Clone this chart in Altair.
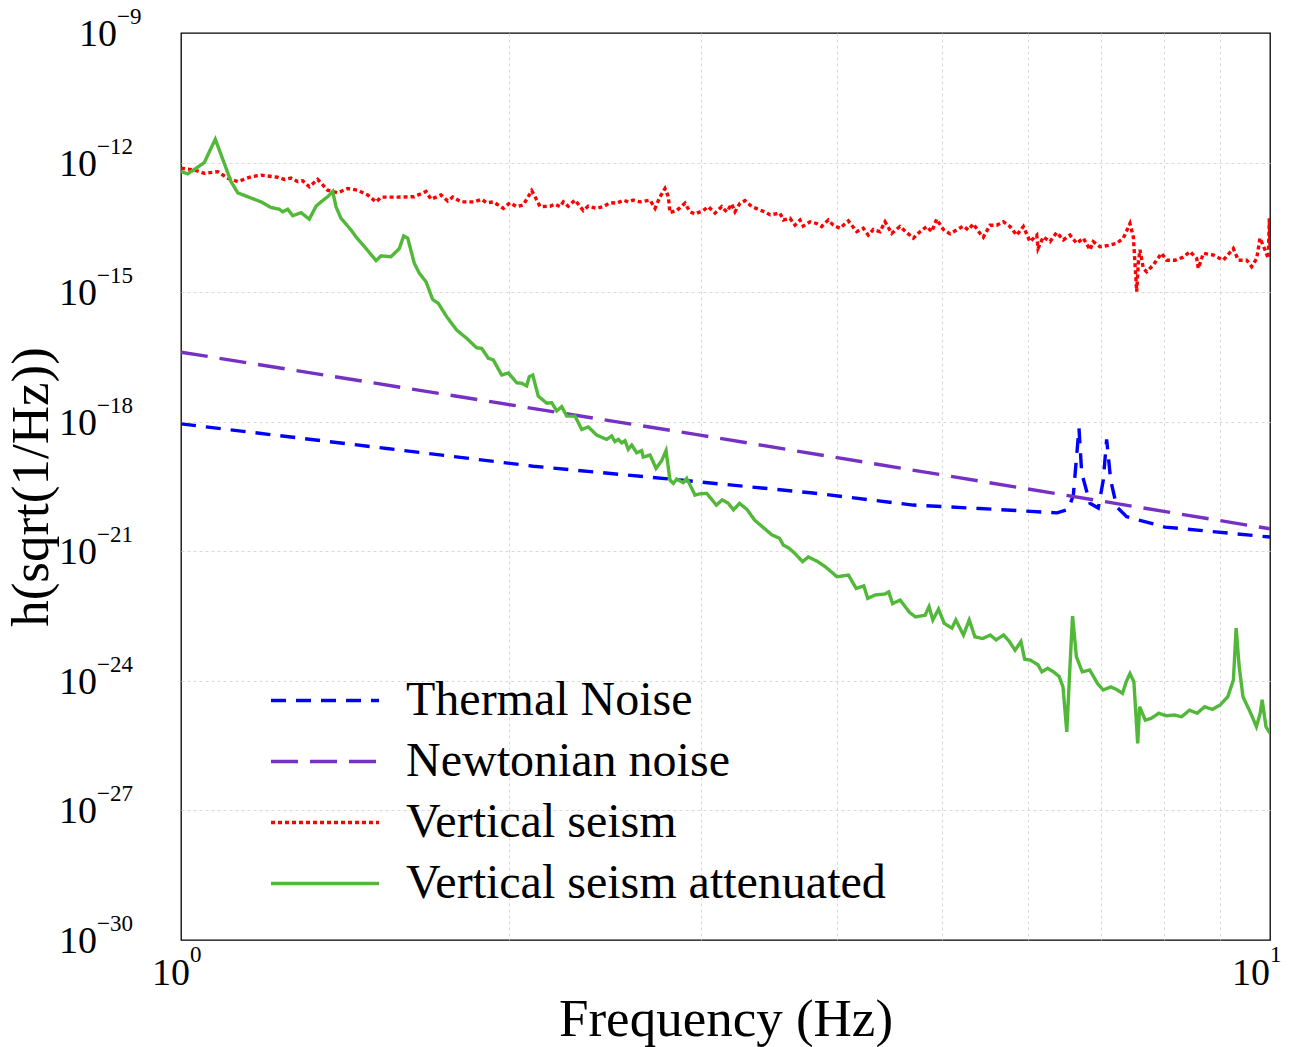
import altair as alt
import pandas as pd

FONT = "Liberation Serif"

# ---------------- data (log10 of frequency in Hz, log10 of amplitude) ----------------
series_names = ["Thermal Noise", "Newtonian noise", "Vertical seism", "Vertical seism attenuated"]
series_colors = ["#0000ff", "#7530c4", "#ff0000", "#52b83a"]
series_dashes = [[15, 10], [27, 12], [4, 3], [1, 0]]

thermal_logf = [0.0, 0.1889, 0.3235, 0.4582, 0.5803, 0.6722, 0.7337, 0.8044, 0.8148, 0.8194,
                0.8246, 0.8271, 0.8347, 0.8423, 0.8469, 0.8500, 0.8537, 0.8592, 0.8684, 0.9036,
                1.0]
thermal_logh = [-18.05, -18.62, -19.03, -19.35, -19.65, -19.93, -20.01, -20.11, -20.03, -19.70,
                -18.15, -19.19, -19.89, -20.00, -19.35, -18.41, -19.35, -19.97, -20.20, -20.44,
                -20.67]

newton_logf = [0.0, 0.4766, 1.0]
newton_logh = [-16.39, -18.31, -20.48]

seism_logf = [0.000, 0.0122, 0.0214, 0.0337, 0.0429, 0.0521, 0.0643, 0.0735, 0.0888, 0.0949,
              0.1010, 0.1072, 0.1118, 0.1178, 0.1255, 0.1347, 0.1439, 0.1531, 0.1623, 0.1714,
              0.1791, 0.1837, 0.1990, 0.2142, 0.2250, 0.2296, 0.2388, 0.2449, 0.2495, 0.2571,
              0.2693, 0.2761, 0.2807, 0.2868, 0.2960, 0.3021, 0.3083, 0.3143, 0.3189, 0.3220,
              0.3251, 0.3297, 0.3388, 0.3434, 0.3480, 0.3511, 0.3556, 0.3618, 0.3694, 0.3740,
              0.3817, 0.3878, 0.3939, 0.4001, 0.4062, 0.4107, 0.4153, 0.4215, 0.4307, 0.4353,
              0.4399, 0.4444, 0.4475, 0.4490, 0.4552, 0.4628, 0.4674, 0.4720, 0.4796, 0.4842,
              0.4904, 0.4965, 0.5011, 0.5057, 0.5087, 0.5133, 0.5179, 0.5241, 0.5317, 0.5363,
              0.5409, 0.5500, 0.5531, 0.5592, 0.5638, 0.5684, 0.5714, 0.5776, 0.5837, 0.5883,
              0.5944, 0.5990, 0.6051, 0.6128, 0.6205, 0.6265, 0.6311, 0.6357, 0.6419, 0.6465,
              0.6526, 0.6602, 0.6664, 0.6725, 0.6786, 0.6848, 0.6893, 0.6939, 0.7000, 0.7062,
              0.7123, 0.7184, 0.7230, 0.7275, 0.7337, 0.7367, 0.7429, 0.7490, 0.7551, 0.7612,
              0.7674, 0.7735, 0.7796, 0.7858, 0.7870, 0.7918, 0.7980, 0.8041, 0.8102, 0.8163,
              0.8225, 0.8286, 0.8347, 0.8377, 0.8439, 0.8531, 0.8592, 0.8653, 0.8714, 0.8745,
              0.8760, 0.8776, 0.8791, 0.8806, 0.8837, 0.8868, 0.8928, 0.9005, 0.9051, 0.9128,
              0.9204, 0.9265, 0.9327, 0.9342, 0.9388, 0.9479, 0.9571, 0.9663, 0.9709, 0.9786,
              0.9832, 0.9878, 0.9908, 0.9954, 0.9984, 0.9994, 1.0000]
seism_logh = [-12.13, -12.17, -12.25, -12.21, -12.36, -12.44, -12.33, -12.29, -12.34, -12.39,
              -12.36, -12.44, -12.42, -12.56, -12.39, -12.64, -12.70, -12.60, -12.64, -12.75,
              -12.91, -12.80, -12.80, -12.79, -12.67, -12.85, -12.75, -12.89, -12.80, -12.91,
              -12.91, -12.85, -12.93, -12.91, -13.06, -12.93, -13.02, -12.98, -12.79, -12.65,
              -12.79, -13.02, -13.01, -12.96, -13.02, -12.91, -13.01, -12.87, -13.11, -13.01,
              -13.06, -13.02, -12.93, -12.94, -12.87, -12.91, -12.87, -12.91, -12.87, -13.06,
              -12.79, -12.60, -12.79, -13.16, -13.11, -12.94, -13.14, -13.19, -13.11, -13.02,
              -13.17, -13.02, -13.14, -12.96, -13.14, -12.94, -12.88, -13.02, -13.10, -13.14,
              -13.21, -13.17, -13.33, -13.29, -13.45, -13.33, -13.47, -13.37, -13.41, -13.48,
              -13.33, -13.45, -13.52, -13.35, -13.60, -13.52, -13.68, -13.55, -13.60, -13.37,
              -13.64, -13.48, -13.62, -13.75, -13.60, -13.48, -13.60, -13.31, -13.55, -13.65,
              -13.56, -13.47, -13.56, -13.42, -13.64, -13.73, -13.45, -13.45, -13.37, -13.48,
              -13.68, -13.48, -13.83, -13.68, -13.99, -13.72, -13.83, -13.62, -13.79, -13.68,
              -13.87, -13.75, -14.02, -13.83, -13.95, -13.91, -13.87, -13.75, -13.41, -13.72,
              -14.33, -14.99, -14.30, -14.02, -14.45, -14.53, -14.37, -14.10, -14.26, -14.26,
              -14.19, -14.06, -14.22, -14.45, -14.10, -14.14, -14.26, -13.99, -14.26, -14.26,
              -14.41, -14.22, -13.75, -14.02, -14.22, -13.29, -14.02]

atten_logf = [0.0000, 0.0062, 0.0122, 0.0214, 0.0260, 0.0315, 0.0383, 0.0459, 0.0521, 0.0612,
              0.0735, 0.0826, 0.0903, 0.0934, 0.0980, 0.1026, 0.1102, 0.1178, 0.1240, 0.1286,
              0.1347, 0.1393, 0.1423, 0.1469, 0.1561, 0.1607, 0.1699, 0.1791, 0.1837, 0.1928,
              0.2005, 0.2045, 0.2082, 0.2142, 0.2188, 0.2250, 0.2311, 0.2363, 0.2440, 0.2532,
              0.2624, 0.2715, 0.2761, 0.2822, 0.2868, 0.2945, 0.3006, 0.3083, 0.3129, 0.3174,
              0.3198, 0.3230, 0.3281, 0.3358, 0.3404, 0.3450, 0.3496, 0.3542, 0.3618, 0.3680,
              0.3740, 0.3817, 0.3909, 0.3955, 0.3985, 0.4016, 0.4047, 0.4077, 0.4107, 0.4139,
              0.4185, 0.4230, 0.4245, 0.4307, 0.4362, 0.4414, 0.4454, 0.4490, 0.4521, 0.4552,
              0.4612, 0.4644, 0.4720, 0.4766, 0.4828, 0.4916, 0.4969, 0.5022, 0.5074, 0.5128,
              0.5197, 0.5268, 0.5338, 0.5426, 0.5497, 0.5532, 0.5585, 0.5637, 0.5708, 0.5760,
              0.5848, 0.5918, 0.6024, 0.6129, 0.6200, 0.6270, 0.6306, 0.6376, 0.6464, 0.6499,
              0.6534, 0.6604, 0.6692, 0.6745, 0.6833, 0.6869, 0.6904, 0.6956, 0.7009, 0.7079,
              0.7115, 0.7185, 0.7238, 0.7290, 0.7361, 0.7431, 0.7484, 0.7554, 0.7607, 0.7659,
              0.7713, 0.7747, 0.7800, 0.7870, 0.7905, 0.7959, 0.8011, 0.8064, 0.8099, 0.8134,
              0.8163, 0.8187, 0.8222, 0.8276, 0.8345, 0.8416, 0.8468, 0.8539, 0.8591, 0.8645,
              0.8680, 0.8714, 0.8750, 0.8785, 0.8803, 0.8855, 0.8908, 0.8979, 0.9049, 0.9118,
              0.9189, 0.9260, 0.9330, 0.9400, 0.9470, 0.9541, 0.9612, 0.9664, 0.9689, 0.9717,
              0.9752, 0.9823, 0.9875, 0.9910, 0.9928, 0.9963, 0.9998]
atten_logh = [-12.21, -12.26, -12.16, -12.00, -11.75, -11.46, -11.92, -12.44, -12.70, -12.79,
              -12.91, -13.04, -13.08, -13.14, -13.08, -13.23, -13.16, -13.31, -13.01, -12.91,
              -12.79, -12.67, -13.02, -13.29, -13.56, -13.72, -13.99, -14.27, -14.16, -14.18,
              -13.99, -13.70, -13.75, -14.33, -14.56, -14.76, -15.17, -15.26, -15.57, -15.88,
              -16.07, -16.29, -16.30, -16.53, -16.57, -16.92, -16.87, -17.10, -17.11, -17.17,
              -16.96, -16.92, -17.41, -17.57, -17.56, -17.75, -17.65, -17.87, -17.87, -18.18,
              -18.12, -18.31, -18.41, -18.33, -18.46, -18.41, -18.49, -18.44, -18.64, -18.54,
              -18.72, -18.67, -18.82, -18.77, -19.08, -18.90, -18.67, -19.35, -19.43, -19.33,
              -19.41, -19.31, -19.70, -19.67, -19.66, -19.93, -19.81, -19.88, -20.04, -19.89,
              -20.03, -20.28, -20.43, -20.62, -20.70, -20.86, -20.93, -21.05, -21.24, -21.13,
              -21.24, -21.36, -21.59, -21.55, -21.86, -21.80, -22.09, -22.01, -21.99, -21.94,
              -22.21, -22.13, -22.42, -22.52, -22.48, -22.28, -22.59, -22.34, -22.67, -22.78,
              -22.59, -22.94, -22.59, -22.98, -23.02, -22.94, -23.05, -22.94, -23.09, -23.29,
              -23.09, -23.50, -23.52, -23.63, -23.79, -23.71, -23.79, -23.90, -24.14, -25.18,
              -23.67, -22.50, -23.44, -23.79, -23.75, -24.06, -24.21, -24.14, -24.20, -24.29,
              -24.02, -23.83, -24.02, -25.45, -24.60, -24.91, -24.87, -24.75, -24.81, -24.79,
              -24.83, -24.68, -24.75, -24.60, -24.66, -24.56, -24.37, -23.98, -22.78, -23.67,
              -24.37, -24.75, -25.06, -24.75, -24.44, -25.06, -25.21]

# tick labels
y_tick_exps = [-9, -12, -15, -18, -21, -24, -27, -30]
y_tick_text = ["\u22129", "\u221212", "\u221215", "\u221218", "\u221221", "\u221224", "\u221227", "\u221230"]
x_tick_vals = [1, 10]
x_tick_text = ["0", "1"]
x_grid_vals = [2, 3, 4, 5, 6, 7, 8, 9]
y_grid_vals = [1e-12, 1e-15, 1e-18, 1e-21, 1e-24, 1e-27]

# ---------------- build table ----------------
rows = []
for name, lf, lh in [
    (series_names[0], thermal_logf, thermal_logh),
    (series_names[1], newton_logf, newton_logh),
    (series_names[2], seism_logf, seism_logh),
    (series_names[3], atten_logf, atten_logh),
]:
    assert len(lf) == len(lh), name
    for a, b in zip(lf, lh):
        rows.append({"series": name, "f": 10.0 ** a, "h": 10.0 ** b})
df = pd.DataFrame(rows)

x_scale = alt.Scale(type="log", domain=[1, 10], nice=False)
y_scale = alt.Scale(type="log", domain=[1e-30, 1e-9], nice=False)

GRID = dict(grid=True, gridColor="#d8d8d8", gridDash=[3, 3], gridWidth=1,
            labels=False, ticks=False, domain=False)

x_axis = alt.Axis(values=x_grid_vals, title="Frequency (Hz)", titleFont=FONT,
                  titleFontSize=53, titleFontWeight="normal", titleColor="black",
                  titlePadding=95, titleBaseline="alphabetic", **GRID)
y_axis = alt.Axis(values=y_grid_vals, title="h(sqrt(1/Hz))", titleFont=FONT,
                  titleFontSize=53, titleFontWeight="normal", titleColor="black",
                  titlePadding=134, titleBaseline="alphabetic", **GRID)

legend = alt.Legend(
    title=None, orient="none", legendX=88, legendY=637, padding=0,
    symbolType="stroke", symbolSize=11664, symbolStrokeWidth=3.4,
    labelFont=FONT, labelFontSize=48, labelColor="black", labelOffset=25,
    labelLimit=1000, rowPadding=0, clipHeight=61,
)

lines = alt.Chart(df).mark_line(strokeWidth=3.4, clip=True).encode(
    x=alt.X("f:Q", scale=x_scale, axis=x_axis),
    y=alt.Y("h:Q", scale=y_scale, axis=y_axis),
    color=alt.Color("series:N", scale=alt.Scale(domain=series_names, range=series_colors),
                    legend=legend),
    strokeDash=alt.StrokeDash("series:N", scale=alt.Scale(domain=series_names, range=series_dashes),
                              legend=legend),
)

# tick label tables use the same field names so the axes merge cleanly
ytick_df = pd.DataFrame({"h": [10.0 ** e for e in y_tick_exps], "exp": y_tick_text})
xtick_df = pd.DataFrame({"f": x_tick_vals, "exp": x_tick_text})

ybase = alt.Chart(ytick_df)
y_long = ybase.transform_filter("length(datum.exp) > 2")
y_short = ybase.transform_filter("length(datum.exp) <= 2")
yenc = dict(y=alt.Y("h:Q", scale=y_scale, axis=y_axis))

y_ten_long = y_long.mark_text(text="10", font=FONT, fontSize=38, align="right",
                              baseline="alphabetic", dy=13, color="black").encode(x=alt.value(-84), **yenc)
y_exp_long = y_long.mark_text(font=FONT, fontSize=23, align="left",
                              baseline="alphabetic", dy=-9, color="black").encode(
    x=alt.value(-84), text="exp:N", **yenc)
y_ten_short = y_short.mark_text(text="10", font=FONT, fontSize=38, align="right",
                                baseline="alphabetic", dy=13, color="black").encode(x=alt.value(-64), **yenc)
y_exp_short = y_short.mark_text(font=FONT, fontSize=23, align="left",
                                baseline="alphabetic", dy=-9, color="black").encode(
    x=alt.value(-64), text="exp:N", **yenc)

xenc = dict(x=alt.X("f:Q", scale=x_scale, axis=x_axis))
x_layers = []
for cond, shift in [("datum.f < 5", 9), ("datum.f >= 5", 0)]:
    xb = alt.Chart(xtick_df).transform_filter(cond)
    x_layers.append(xb.mark_text(text="10", font=FONT, fontSize=38, align="right", dx=shift,
                                 baseline="alphabetic", color="black").encode(y=alt.value(952), **xenc))
    x_layers.append(xb.mark_text(font=FONT, fontSize=23, align="left", dx=shift,
                                 baseline="alphabetic", color="black").encode(
        y=alt.value(929), text="exp:N", **xenc))

chart = alt.layer(
    lines, y_ten_long, y_exp_long, y_ten_short, y_exp_short, *x_layers
).properties(
    width=1089, height=907,
    autosize=alt.AutoSizeParams(type="none"),
    padding={"left": 181, "top": 33, "right": 21, "bottom": 107},
    background="white",
).configure(
    font=FONT,
    view=alt.ViewConfig(stroke="black", strokeWidth=1.3),
)

chart.save("out.html", embed_options={"renderer": "svg", "actions": False})
